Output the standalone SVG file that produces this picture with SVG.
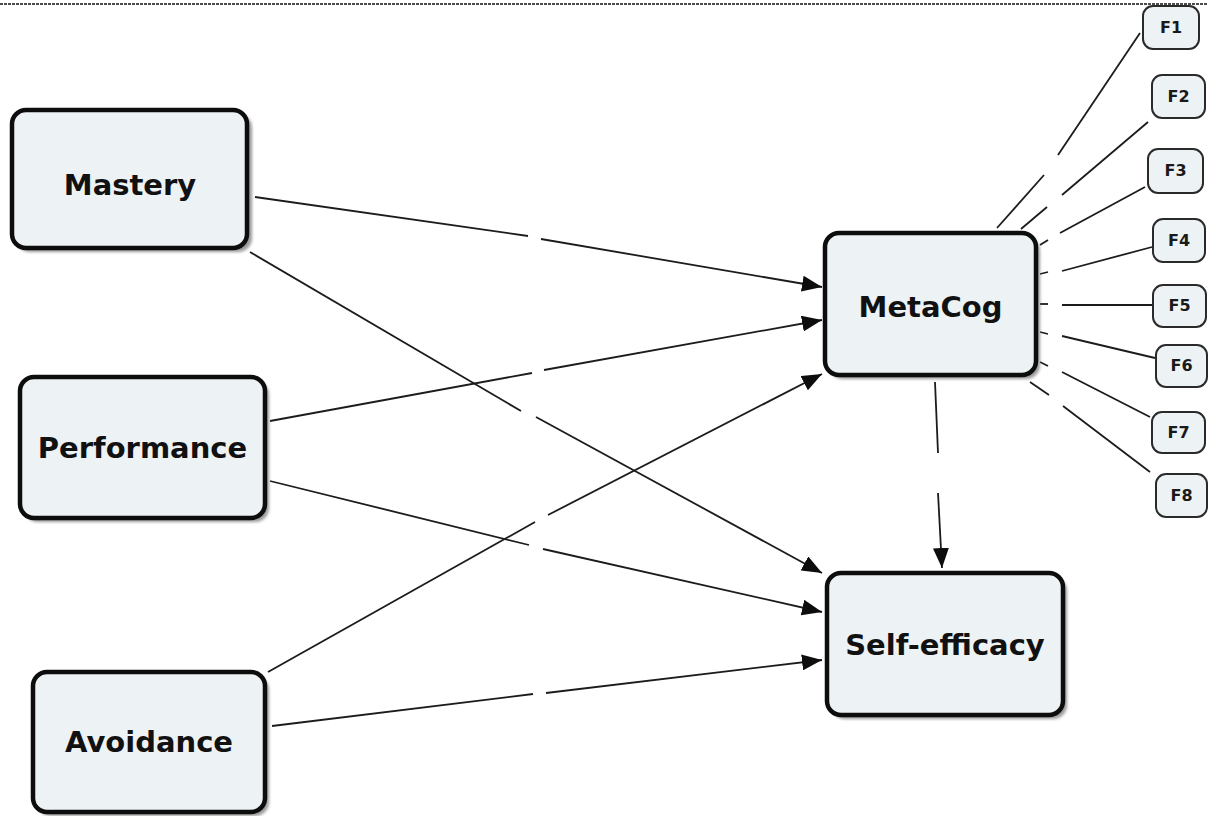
<svg xmlns="http://www.w3.org/2000/svg" width="1208" height="816" viewBox="0 0 1208 816">
  <style>
    .box { fill: #edf2f5; stroke: #0d0d0d; stroke-width: 4.5; }
    .fbox { fill: #edf2f5; stroke: #2a2a2a; stroke-width: 2; }
    .shadow { fill: #777; opacity: 0.75; filter: url(#soft); }
    .label { font-family: "DejaVu Sans", Verdana, sans-serif; font-weight: bold; font-size: 29px; fill: #111; text-anchor: middle; }
    .flabel { font-family: "DejaVu Sans", Verdana, sans-serif; font-weight: bold; font-size: 16px; fill: #1a1a1a; text-anchor: middle; }
    .edge { stroke: #1c1c1c; stroke-width: 1.8; fill: none; }
    .arrow { marker-end: url(#head); }
  </style>
  <defs>
    <filter id="soft" x="-10%" y="-10%" width="120%" height="120%">
      <feGaussianBlur stdDeviation="1.5"/>
    </filter>
    <marker id="head" viewBox="0 0 20 16" refX="20" refY="8" markerWidth="20" markerHeight="16" markerUnits="userSpaceOnUse" orient="auto">
      <path d="M0,0 L20,8 L0,16 Z" fill="#0d0d0d"/>
    </marker>
  </defs>

  <rect width="1208" height="816" fill="#fff"/>
  <!-- dotted frame edge along the top -->
  <line x1="0" y1="4" x2="1208" y2="4" stroke="#111" stroke-width="1.6" stroke-dasharray="3 1"/>

  <g id="connectors">
    <!-- Mastery -> MetaCog -->
    <line class="edge" x1="255" y1="197" x2="528" y2="236"/>
    <line class="edge arrow" x1="541" y1="239" x2="822" y2="287"/>
    <!-- Mastery -> Self-efficacy -->
    <line class="edge" x1="250" y1="252" x2="521" y2="411"/>
    <line class="edge arrow" x1="536" y1="417" x2="822" y2="573"/>
    <!-- Performance -> MetaCog -->
    <line class="edge" x1="270" y1="421" x2="532" y2="373"/>
    <line class="edge arrow" x1="544" y1="370" x2="822" y2="320"/>
    <!-- Performance -> Self-efficacy -->
    <line class="edge" x1="270" y1="481" x2="529" y2="545"/>
    <line class="edge arrow" x1="543" y1="549" x2="822" y2="612"/>
    <!-- Avoidance -> MetaCog -->
    <line class="edge" x1="268" y1="672" x2="535" y2="522"/>
    <line class="edge arrow" x1="548" y1="515" x2="822" y2="374"/>
    <!-- Avoidance -> Self-efficacy -->
    <line class="edge" x1="272" y1="726" x2="533" y2="694"/>
    <line class="edge arrow" x1="546" y1="693" x2="822" y2="660"/>
    <!-- MetaCog -> Self-efficacy -->
    <line class="edge" x1="935" y1="382" x2="938" y2="453"/>
    <line class="edge arrow" x1="938" y1="493" x2="942" y2="568"/>

    <!-- MetaCog indicator lines F1..F8 -->
    <line class="edge" x1="1140" y1="33" x2="1058" y2="155"/>
    <line class="edge" x1="1044" y1="175" x2="997" y2="228"/>
    <line class="edge" x1="1148" y1="122" x2="1062" y2="195"/>
    <line class="edge" x1="1047" y1="207" x2="1021" y2="229"/>
    <line class="edge" x1="1145" y1="187" x2="1060" y2="233"/>
    <line class="edge" x1="1048" y1="240" x2="1040" y2="245"/>
    <line class="edge" x1="1152" y1="247" x2="1062" y2="271"/>
    <line class="edge" x1="1048" y1="272" x2="1040" y2="274"/>
    <line class="edge" x1="1152" y1="305" x2="1062" y2="305"/>
    <line class="edge" x1="1048" y1="304" x2="1040" y2="304"/>
    <line class="edge" x1="1155" y1="358" x2="1062" y2="336"/>
    <line class="edge" x1="1048" y1="334" x2="1040" y2="332"/>
    <line class="edge" x1="1150" y1="417" x2="1062" y2="372"/>
    <line class="edge" x1="1048" y1="366" x2="1040" y2="362"/>
    <line class="edge" x1="1150" y1="472" x2="1063" y2="406"/>
    <line class="edge" x1="1049" y1="395" x2="1030" y2="382"/>
  </g>

  <g id="mastery">
    <rect class="shadow" x="16" y="114" width="236" height="138" rx="14"/>
    <rect class="box" x="12" y="110" width="235" height="138" rx="14"/>
    <text class="label" x="130" y="195">Mastery</text>
  </g>
  <g id="performance">
    <rect class="shadow" x="24" y="381" width="245" height="141" rx="14"/>
    <rect class="box" x="20" y="377" width="245" height="141" rx="14"/>
    <text class="label" x="142.5" y="458">Performance</text>
  </g>
  <g id="avoidance">
    <rect class="shadow" x="37" y="676" width="232" height="140" rx="14"/>
    <rect class="box" x="33" y="672" width="232" height="140" rx="14"/>
    <text class="label" x="149" y="752">Avoidance</text>
  </g>
  <g id="metacog">
    <rect class="shadow" x="829" y="237" width="211" height="142" rx="14"/>
    <rect class="box" x="825" y="233" width="211" height="142" rx="14"/>
    <text class="label" x="930.5" y="317">MetaCog</text>
  </g>
  <g id="self-efficacy">
    <rect class="shadow" x="831" y="577" width="236" height="142" rx="14"/>
    <rect class="box" x="827" y="573" width="236" height="142" rx="14"/>
    <text class="label" x="945" y="655">Self-efficacy</text>
  </g>

  <g id="f1">
    <rect class="fbox" x="1143" y="6" width="56" height="43" rx="10"/>
    <text class="flabel" x="1171" y="33">F1</text>
  </g>
  <g id="f2">
    <rect class="fbox" x="1152" y="75" width="53" height="43" rx="10"/>
    <text class="flabel" x="1178.5" y="102">F2</text>
  </g>
  <g id="f3">
    <rect class="fbox" x="1148" y="149" width="55" height="44" rx="10"/>
    <text class="flabel" x="1175.5" y="176">F3</text>
  </g>
  <g id="f4">
    <rect class="fbox" x="1153" y="219" width="52" height="43" rx="10"/>
    <text class="flabel" x="1179" y="246">F4</text>
  </g>
  <g id="f5">
    <rect class="fbox" x="1153" y="285" width="53" height="42" rx="10"/>
    <text class="flabel" x="1179.5" y="311">F5</text>
  </g>
  <g id="f6">
    <rect class="fbox" x="1156" y="345" width="51" height="42" rx="10"/>
    <text class="flabel" x="1181.5" y="371">F6</text>
  </g>
  <g id="f7">
    <rect class="fbox" x="1152" y="412" width="53" height="41" rx="10"/>
    <text class="flabel" x="1178.5" y="438">F7</text>
  </g>
  <g id="f8">
    <rect class="fbox" x="1156" y="474" width="51" height="43" rx="10"/>
    <text class="flabel" x="1181.5" y="501">F8</text>
  </g>
</svg>
